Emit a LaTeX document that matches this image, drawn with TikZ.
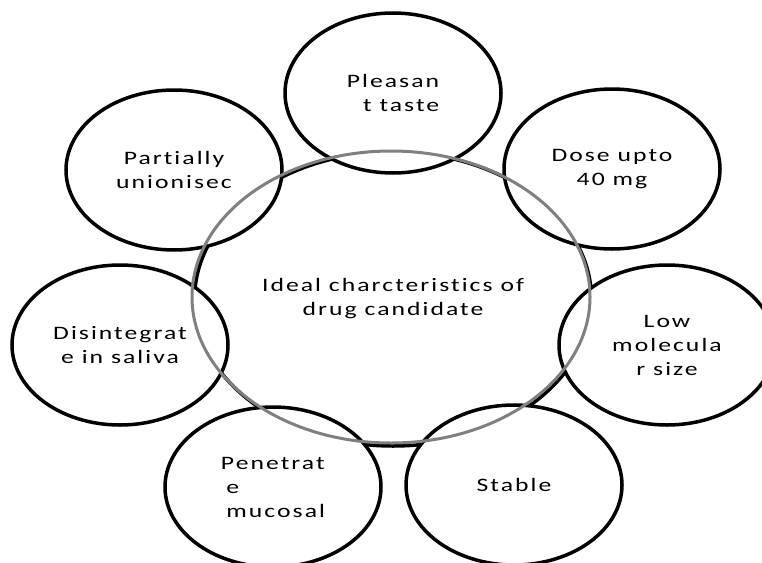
\documentclass[tikz,border=0pt]{standalone}
\usepackage{fontspec}
\setmainfont{Carlito}[LetterSpace=8, Ligatures=NoCommon]
\usepackage{xcolor}
\usepackage{tikz}
\definecolor{ringgray}{RGB}{128,128,128}

\begin{document}
\begin{tikzpicture}[
  x=1pt, y=-1pt,
  bubble/.style={draw, circle, fill=white, line width=3.5pt, inner sep=0pt,
    minimum size=#1, xscale=1.35, align=center,
    font=\fontsize{19}{24}\selectfont},
  bubble/.default=160pt,
  ring/.style={draw=ringgray, line width=3pt}
]
  \path[use as bounding box, clip] (0,0) rectangle (762,562);

  % Central circle
  \node[bubble=294pt] (core) at (393,299) {Ideal charcteristics of\\drug candidate};

  % Characteristics around it
  \node[bubble, align=right] (taste) at (393,93) {Pleasan\\t taste};
  \node[bubble] (ionised) at (174,170) {Partially\\unionisec};
  \node[bubble] (dose) at (612,169) {Dose upto\\40 mg};
  \node[bubble] (saliva) at (120,345) {Disintegrat\\e in saliva};
  \node[bubble] (weight) at (667,345) {Low\\molecula\\r size};
  \node[bubble, align=left] (mucosa) at (273,487) {Penetrat\\\hspace*{4pt}e\\\hspace*{4pt}mucosal};
  \node[bubble] (stable) at (514,485) {Stable};

  % Grey ring drawn over everything
  \draw[ring] (391,297) ellipse [x radius=199, y radius=146];
\end{tikzpicture}
\end{document}
